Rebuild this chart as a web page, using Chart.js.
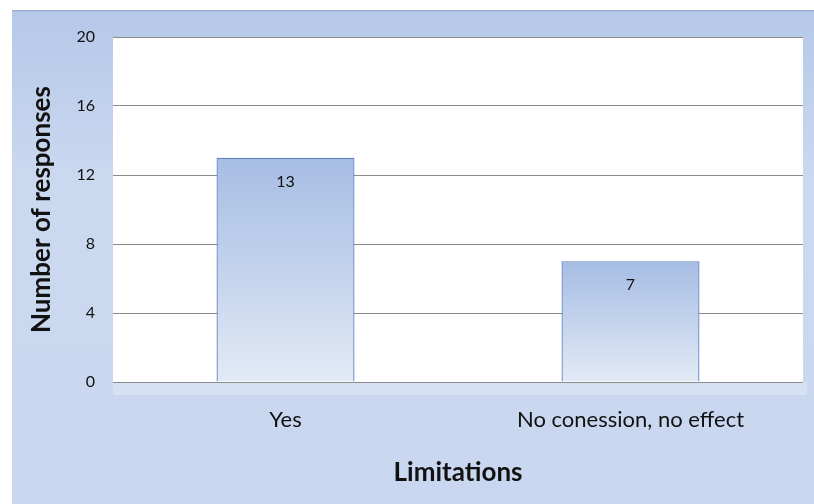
<!DOCTYPE html>
<html><head><meta charset="utf-8">
<script src="https://cdn.jsdelivr.net/npm/chart.js@4.4.1/dist/chart.umd.min.js"></script>
<style>html,body{margin:0;padding:0;background:#fff}#wrap{width:814px;height:504px}</style>
</head><body><div id="wrap"><canvas id="c" width="814" height="504"></canvas></div>
<script>
const categories = ["Yes", "No conession, no effect"];
const responses = [13, 7];
const yTicks = [0, 4, 8, 12, 16, 20];
const xTitle = "Limitations";
const yTitle = "Number of responses";

const FONT = "Lato, 'Open Sans', sans-serif";

const bgPlugin = {
  id: 'bg',
  beforeDraw(chart) {
    const ctx = chart.ctx, W = chart.width, H = chart.height;
    ctx.save();
    ctx.fillStyle = '#ffffff';
    ctx.fillRect(0, 0, W, H);
    const g = ctx.createLinearGradient(0, 10, 0, H);
    g.addColorStop(0, '#b5c8e8');
    g.addColorStop(0.35, '#cbd9f0');
    g.addColorStop(1, '#c8d7ef');
    ctx.fillStyle = g;
    ctx.fillRect(12, 10, W - 12, H - 10);
    ctx.fillStyle = '#9db2d6';
    ctx.fillRect(12, 10, W - 12, 1.5);
    const a = chart.chartArea;
    ctx.fillStyle = '#d6e1f3';
    ctx.fillRect(a.left, a.bottom, a.right - a.left + 4, 13);
    ctx.fillStyle = '#ffffff';
    ctx.fillRect(a.left, a.top, a.right - a.left, a.bottom - a.top);
    ctx.restore();
  }
};

const labelPlugin = {
  id: 'barLabels',
  afterDatasetsDraw(chart) {
    const ctx = chart.ctx;
    const meta = chart.getDatasetMeta(0);
    ctx.save();
    ctx.font = "16px " + FONT;
    ctx.fillStyle = '#111';
    ctx.textAlign = 'center';
    ctx.textBaseline = 'middle';
    meta.data.forEach((bar, i) => {
      ctx.fillText(String(chart.data.datasets[0].data[i]), bar.x, bar.y + 24);
    });
    ctx.restore();
  }
};

new Chart(document.getElementById('c'), {
  type: 'bar',
  data: {
    labels: categories,
    datasets: [{
      data: responses,
      backgroundColor(ctx) {
        const chart = ctx.chart;
        const y = chart.scales && chart.scales.y;
        if (!y || ctx.type !== 'data') return '#bccde9';
        const top = y.getPixelForValue(ctx.raw), bot = y.getPixelForValue(0);
        if (!isFinite(top) || !isFinite(bot) || top === bot) return '#bccde9';
        const g = chart.ctx.createLinearGradient(0, top, 0, bot);
        g.addColorStop(0, '#a6bde3');
        g.addColorStop(0.5, '#c3d3ec');
        g.addColorStop(1, '#e3eaf6');
        return g;
      },
      borderColor: '#5f82c4',
      borderWidth: 1.3,
      barPercentage: 0.4,
      categoryPercentage: 1.0
    }]
  },
  options: {
    responsive: false,
    animation: false,
    layout: { padding: { left: 12, top: 37, right: 11, bottom: 0 } },
    plugins: { legend: { display: false }, tooltip: { enabled: false } },
    scales: {
      x: {
        afterFit(s) { s.height = 122; },
        grid: { display: false, drawTicks: false },
        border: { display: false },
        ticks: { padding: 25, color: '#111', font: { family: FONT, size: 22 } },
        title: { display: true, text: xTitle, color: '#111', padding: { top: 0, bottom: 16 },
                 font: { family: FONT, size: 26, weight: 'bold' } }
      },
      y: {
        min: 0, max: 20,
        afterFit(s) { s.width = 101; },
        afterBuildTicks(s) { s.ticks = yTicks.map(v => ({ value: v })); },
        grid: { color: '#8a8a8a', lineWidth: 1, drawTicks: false },
        border: { display: false },
        ticks: { padding: 18, color: '#111', font: { family: FONT, size: 16 } },
        title: { display: true, text: yTitle, color: '#111', padding: { top: 14, bottom: 0 },
                 font: { family: FONT, size: 26, weight: 'bold' } }
      }
    }
  },
  plugins: [bgPlugin, labelPlugin]
});
</script></body></html>
